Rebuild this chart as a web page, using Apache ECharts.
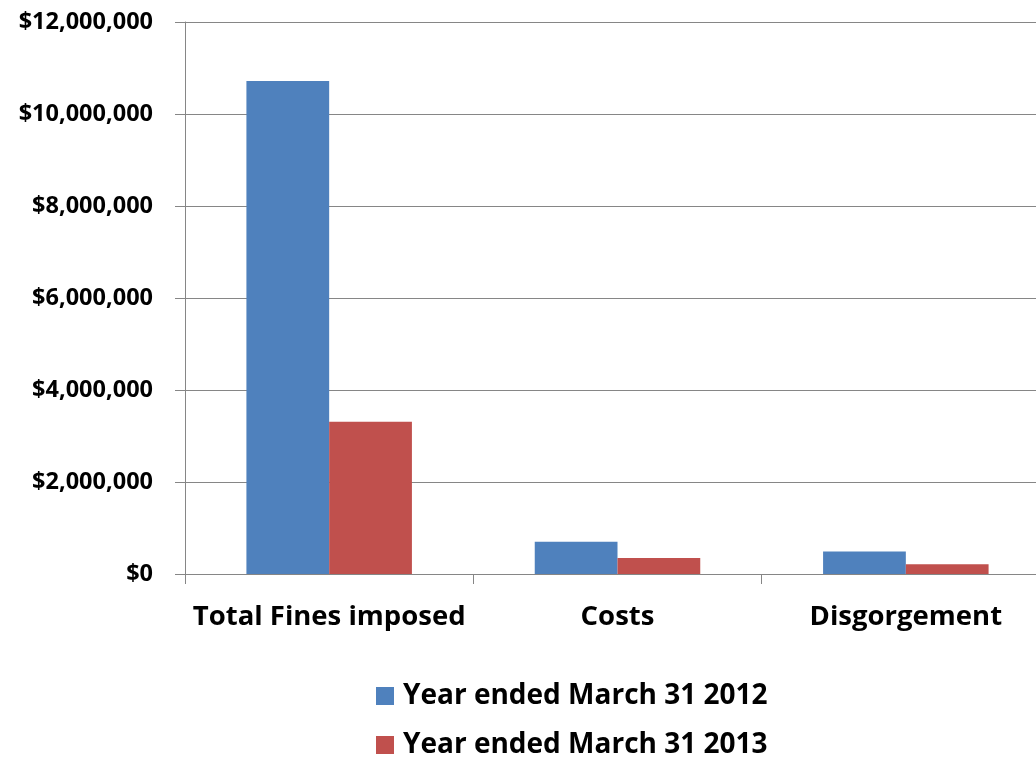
<!DOCTYPE html>
<html>
<head>
<meta charset="utf-8">
<script src="https://cdn.jsdelivr.net/npm/echarts@6/dist/echarts.min.js"></script>
<style>
  html, body { margin: 0; padding: 0; background: #fff; }
  #chart { width: 1036px; height: 761px; }
</style>
</head>
<body>
<div id="chart"></div>
<script>
// 数据
var categories = ["Total Fines imposed", "Costs", "Disgorgement"];
var seriesNames = ["Year ended March 31 2012", "Year ended March 31 2013"];
var values2012 = [10720000, 700000, 490000];
var values2013 = [3310000, 350000, 210000];
var yTicks = [0, 2000000, 4000000, 6000000, 8000000, 10000000, 12000000];

var myChart = echarts.init(document.getElementById("chart"));
var font = "Open Sans";

// $12,000,000 格式
function money(v) {
  return "$" + String(v).replace(/\B(?=(\d{3})+(?!\d))/g, ",");
}

// 图例：一行一个
function legendRow(name, top) {
  return {
    left: 376,
    top: top,
    padding: 0,
    itemWidth: 18,
    itemHeight: 18,
    icon: "rect",
    textStyle: {
      fontFamily: font,
      fontWeight: "bold",
      fontSize: 28,
      color: "#000",
      padding: [0, 0, 0, 4]
    },
    data: [name]
  };
}

var option = {
  animation: false,
  color: ["#4F81BD", "#C0504D"],
  grid: {
    left: 185,
    width: 865, // 右边超出画布，跟原图一样
    top: 22,
    bottom: 187,
    outerBoundsMode: "none",
    containLabel: false
  },
  legend: [legendRow(seriesNames[0], 682), legendRow(seriesNames[1], 731)],
  xAxis: {
    type: "category",
    data: categories,
    axisLine: { show: true, lineStyle: { color: "#868686", width: 1 } },
    axisTick: { show: true, length: 10, lineStyle: { color: "#868686" } },
    axisLabel: {
      interval: 0,
      fontFamily: font,
      fontWeight: "bold",
      fontSize: 27.5,
      color: "#000",
      margin: 29
    }
  },
  yAxis: {
    type: "value",
    min: yTicks[0],
    max: yTicks[yTicks.length - 1],
    interval: 2000000,
    axisLine: { show: true, lineStyle: { color: "#868686", width: 1 } },
    axisTick: { show: true, length: 10, lineStyle: { color: "#868686" } },
    splitLine: { show: true, lineStyle: { color: "#868686", width: 1 } },
    axisLabel: {
      fontFamily: font,
      fontWeight: "bold",
      fontSize: 23.5,
      color: "#000",
      margin: 32,
      formatter: money
    }
  },
  series: [
    {
      name: seriesNames[0],
      type: "bar",
      data: values2012,
      barGap: "0%",
      barCategoryGap: "42.6%"
    },
    {
      name: seriesNames[1],
      type: "bar",
      data: values2013,
      barGap: "0%",
      barCategoryGap: "42.6%"
    }
  ]
};

myChart.setOption(option);
window.addEventListener("resize", function () {
  myChart.resize();
});
</script>
</body>
</html>
